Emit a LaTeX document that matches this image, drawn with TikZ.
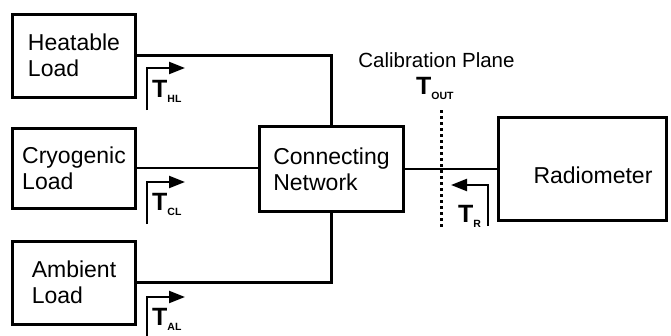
\documentclass[tikz,border=0pt]{standalone}
\usepackage{fontspec}
\setmainfont{Liberation Sans}
\usetikzlibrary{arrows.meta}
\begin{document}
\begin{tikzpicture}[x=1pt,y=-1pt,
  box/.style={draw,line width=3pt,rectangle,inner sep=0pt,align=left,font=\fontsize{23}{26}\selectfont},
  wire/.style={line width=2.6pt},
  tarrow/.style={line width=2.2pt,-{Triangle[length=16pt,width=12pt]}},
  tlab/.style={anchor=base west,inner sep=0pt},
  plane/.style={line width=3pt,dash pattern=on 3pt off 3pt}]
\useasboundingbox (0,0) rectangle (671,335);
\newcommand{\tsym}[1]{{\fontsize{25}{25}\selectfont\bfseries T}\raisebox{-5pt}{\fontsize{10.5}{10.5}\selectfont\bfseries #1}}
% boxes
\node[box,minimum width=123pt,minimum height=83pt] (hl) at (74,55.5) {Heatable\\Load};
\node[box,minimum width=123pt,minimum height=80pt] (cl) at (74,168) {Cryogenic\\Load};
\node[box,minimum width=123pt,minimum height=83pt] (al) at (74,282.5) {Ambient\\Load};
\node[box,minimum width=144pt,minimum height=85pt] (cn) at (331.5,169) {Connecting\\Network};
\node[box,minimum width=168pt,minimum height=103pt] (rad) at (582.5,169) {};
\node[anchor=base,inner sep=0pt,font=\fontsize{23}{26}\selectfont] (radt) at (593,183) {Radiometer};
% wires
\draw[wire] (hl.east) -| (cn.north);
\draw[wire] (cl.east) -- (cl.east -| cn.west);
\draw[wire] (al.east) -| (cn.south);
\draw[wire] (cn.east) -- (cn.east -| rad.west);
% calibration plane
\coordinate (pt) at (441,110);
\coordinate (pb) at (441,229);
\draw[plane] (pt) -- (pb);
\node[anchor=base,inner sep=0pt,font=\fontsize{20.5}{24}\selectfont] (cpl) at (436.5,67) {Calibration Plane};
\node[tlab] (tout) at (416,94) {\tsym{OUT}};
% temperature arrows
\coordinate (hla) at (147,110); \coordinate (hlb) at (185,68);
\draw[tarrow] (hla) |- (hlb);
\node[tlab] (thl) at (152,97) {\tsym{HL}};
\coordinate (cla) at (147,224); \coordinate (clb) at (185,182);
\draw[tarrow] (cla) |- (clb);
\node[tlab] (tcl) at (152,210) {\tsym{CL}};
\coordinate (ala) at (147,336); \coordinate (alb) at (185,297);
\draw[tarrow] (ala) |- (alb);
\node[tlab] (tal) at (152,325) {\tsym{AL}};
\coordinate (ra) at (488,226); \coordinate (rb) at (451,185);
\draw[tarrow] (ra) |- (rb);
\node[tlab] (tr) at (458,222) {\tsym{R}};
\end{tikzpicture}
\end{document}
